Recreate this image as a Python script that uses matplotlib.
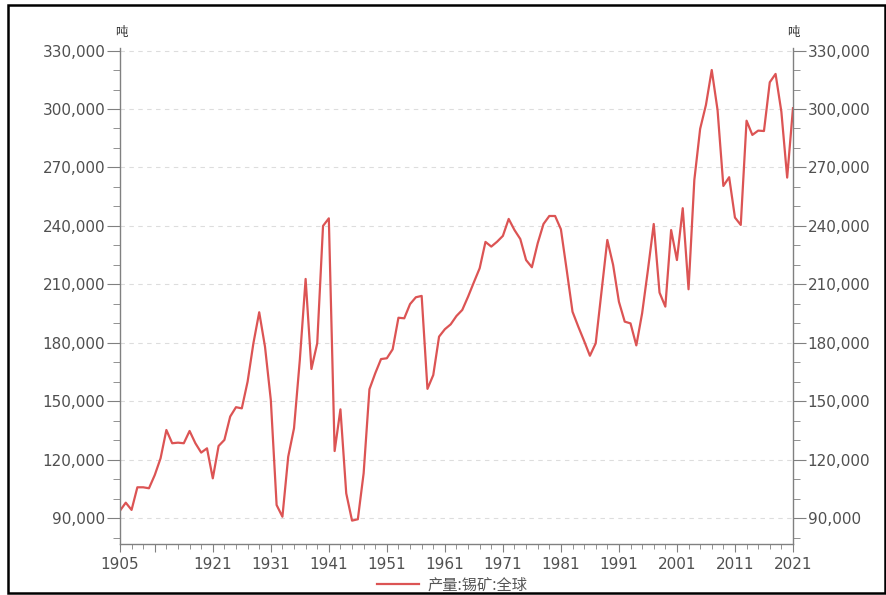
import matplotlib
matplotlib.use('Agg')
import matplotlib.pyplot as plt
import matplotlib.patches as mpatches
import numpy as np

plt.rcParams['font.family'] = ['Noto Sans CJK SC', 'DejaVu Sans']

# world tin ore production, tonnes
years = list(range(1905, 2022))
output = [
    93900, 98000, 94300, 105900, 105900, 105400, 112200, 120800, 135300, 128500,  # 1905-1914
    128800, 128500, 134800, 128500, 123700, 125900, 110500, 127100, 130200, 142200,  # 1915-1924
    147000, 146400, 160100, 179800, 195700, 178000, 150700, 96800, 90800, 121600,  # 1925-1934
    136200, 171200, 212800, 166600, 179800, 240000, 243900, 124500, 145900, 102800,  # 1935-1944
    88800, 89500, 113100, 156200, 164400, 171700, 172100, 176700, 192900, 192600,  # 1945-1954
    199900, 203400, 204100, 156400, 163500, 183200, 187000, 189500, 193800, 196900,  # 1955-1964
    203700, 211100, 218300, 231800, 229400, 231900, 234900, 243600, 237900, 233300,  # 1965-1974
    222500, 218800, 231100, 241000, 245100, 245100, 238300, 217400, 196000, 188300,  # 1975-1984
    181000, 173400, 179800, 206300, 232800, 220000, 201100, 190900, 190000, 178700,  # 1985-1994
    195200, 217400, 241000, 205800, 198600, 237900, 222500, 249100, 207500, 263600,  # 1995-2004
    289800, 302100, 320000, 299500, 260500, 265000, 244300, 240500, 294000, 286700,  # 2005-2014
    288900, 288700, 313700, 318000, 298600, 264800, 300400,  # 2015-2021
]
series_name = '产量:锡矿:全球'
unit = '吨'
yticks = [90000, 120000, 150000, 180000, 210000, 240000, 270000, 300000, 330000]
xticks = [1905, 1911, 1921, 1931, 1941, 1951, 1961, 1971, 1981, 1991, 2001, 2011, 2021]
xlabels = ['1905', '', '1921', '1931', '1941', '1951', '1961', '1971', '1981', '1991', '2001', '2011', '2021']

fig = plt.figure(figsize=(8.86, 5.95), dpi=100)
ax = fig.add_axes([0.1354, 0.0857, 0.7596, 0.8343])

line, = ax.plot(years, output, color='#dc5454', lw=1.6, label=series_name)

ax.set_xlim(1905, 2021)
ax.set_ylim(76800, 331500)

ax.set_yticks(yticks)
ax.set_yticklabels(['{:,}'.format(v) for v in yticks])
ax.set_yticks(np.arange(80000, 331000, 10000), minor=True)
ax.set_xticks(xticks)
ax.set_xticklabels(xlabels)
ax.set_xticks([y for y in range(1907, 2021, 2) if y not in xticks], minor=True)

ax.grid(axis='y', which='major', color='#dddddd', ls=(0, (4, 4)), lw=0.8)
ax.set_axisbelow(True)

for s in ['left', 'right', 'bottom']:
    ax.spines[s].set_color('#808080')
    ax.spines[s].set_linewidth(1.0)
ax.spines['top'].set_visible(False)

ax.tick_params(axis='y', which='both', left=True, right=True, labelleft=True, labelright=True,
               colors='#808080', labelcolor='#505050', labelsize=11, pad=1)
ax.tick_params(axis='y', which='major', length=9.5)
ax.tick_params(axis='y', which='minor', length=5)
ax.tick_params(axis='x', which='both', colors='#808080', labelcolor='#505050', labelsize=11, pad=3)
ax.tick_params(axis='x', which='major', length=6)
ax.tick_params(axis='x', which='minor', length=3.5)
for lab in ax.get_xticklabels() + ax.get_yticklabels():
    lab.set_family('DejaVu Sans')

fig.text(0.1365, 0.946, unit, ha='center', va='center', fontsize=9, color='#333333')
fig.text(0.895, 0.946, unit, ha='center', va='center', fontsize=9, color='#333333')

fig.legend(handles=[line], loc='center', bbox_to_anchor=(0.51, 0.017), frameon=False,
           fontsize=11, labelcolor='#555555', handlelength=2.8, handletextpad=0.5)

fig.patches.append(mpatches.Rectangle((0.009, 0.004), 0.99, 0.988, transform=fig.transFigure,
                                      fill=False, edgecolor='black', lw=1.8))

fig.savefig('out.png', dpi=100)
